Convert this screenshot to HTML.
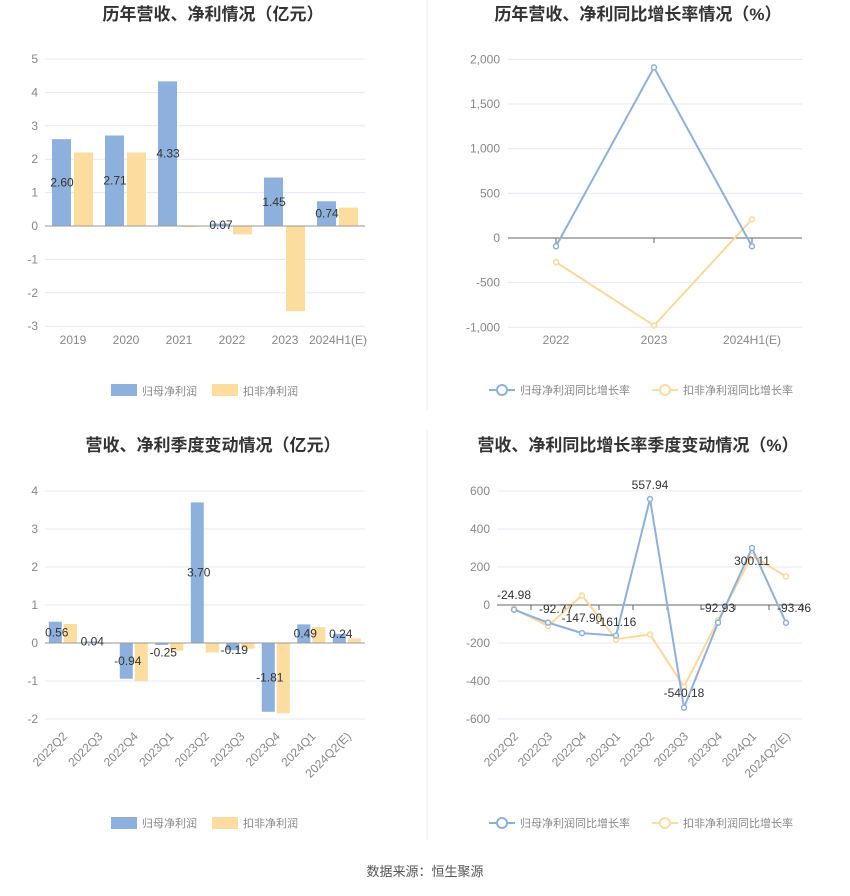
<!DOCTYPE html>
<html><head><meta charset="utf-8"><style>
body{margin:0;background:#fff;width:850px;height:891px;overflow:hidden;font-family:"Liberation Sans","Noto Sans CJK SC",sans-serif}
svg text{font-family:"Liberation Sans","Noto Sans CJK SC",sans-serif}
</style></head><body>
<svg id="s" width="850" height="891" xmlns="http://www.w3.org/2000/svg"></svg>
<script>
const s=document.getElementById('s');let h='';
const B='#8eb0dc',O='#fddca0',G='#e6e8f0',T='#888';
function t(x,y,str,o={}){h+=`<text x="${x}" y="${y}" font-size="${o.fs||12}" fill="${o.c||T}" text-anchor="${o.a||'middle'}" ${o.w?'font-weight="bold"':''} ${o.tr?`transform="${o.tr}"`:''}>${str}</text>`;}
function r(x,y,w,hh,c){if(hh<0){y+=hh;hh=-hh}h+=`<rect x="${x}" y="${y}" width="${w}" height="${Math.max(hh,0.5)}" fill="${c}"/>`;}
function l(x1,y1,x2,y2,c,w=1){h+=`<line x1="${x1}" y1="${y1}" x2="${x2}" y2="${y2}" stroke="${c}" stroke-width="${w}"/>`;}
l(427,0,427,410,'#eee');l(427,430,427,840,'#eee');
t(213,20,'历年营收、净利情况（亿元）',{fs:17,w:1,c:'#333'});
t(638,20,'历年营收、净利同比增长率情况（%）',{fs:17,w:1,c:'#333'});
t(213,451,'营收、净利季度变动情况（亿元）',{fs:17,w:1,c:'#333'});
t(638,451,'营收、净利同比增长率季度变动情况（%）',{fs:17,w:1,c:'#333'});
const LF={a:'start',fs:11};
{const y=v=>226-33.4*v;for(let v=-3;v<=5;v++){if(v)l(45,y(v),365,y(v),G);t(38,y(v)+4,v,{a:'end'});}
const cats=['2019','2020','2021','2022','2023','2024H1(E)'],bv=[2.60,2.71,4.33,0.07,1.45,0.74],ov=[2.2,2.2,-0.03,-0.25,-2.55,0.55];
cats.forEach((c,i)=>{const cx=73+53*i;r(cx-21,226,19,-33.4*bv[i],B);r(cx+1,226,19,-33.4*ov[i],O);t(cx,344,c);});
l(45,226,365,226,'#999');
cats.forEach((c,i)=>{const cx=73+53*i;t(cx-11,y(bv[i]/2)+4,bv[i].toFixed(2),{c:'#333'});});
r(111,384,26,12,B);t(142,395,'归母净利润',LF);r(212,384,26,12,O);t(243,395,'扣非净利润',LF);}
{const y=v=>238-v*0.0893;[2000,1500,1000,500,0,-500,-1000].forEach(v=>{if(v)l(508,y(v),802,y(v),G);t(500,y(v)+4,v.toLocaleString('en-US'),{a:'end'});});
l(508,238,802,238,'#666');[556,654,752].forEach((x,i)=>{l(x,238,x,243,'#666');t(x,344,['2022','2023','2024H1(E)'][i]);});
const bp=[[556,-92.77],[654,1910],[752,-93.46]],op=[[556,-270],[654,-980],[752,210]];
[[op,'#fdd89a'],[bp,B]].forEach(([p,c])=>{h+=`<polyline points="${p.map(q=>q[0]+','+y(q[1])).join(' ')}" fill="none" stroke="${c}" stroke-width="2"/>`;p.forEach(q=>h+=`<circle cx="${q[0]}" cy="${y(q[1])}" r="2.5" fill="#fff" stroke="${c}" stroke-width="1.5"/>`);});
l(489,390,515,390,B,2);h+=`<circle cx="502" cy="390" r="5" fill="#fff" stroke="${B}" stroke-width="2"/>`;t(520,394,'归母净利润同比增长率',LF);
l(652,390,678,390,O,2);h+=`<circle cx="665" cy="390" r="5" fill="#fff" stroke="${O}" stroke-width="2"/>`;t(683,394,'扣非净利润同比增长率',LF);}
const qc=['2022Q2','2022Q3','2022Q4','2023Q1','2023Q2','2023Q3','2023Q4','2024Q1','2024Q2(E)'];
{const y=v=>643-38*v;for(let v=-2;v<=4;v++){if(v)l(45,y(v),365,y(v),G);t(38,y(v)+4,v,{a:'end'});}
const bv=[0.56,0.04,-0.94,-0.05,3.70,-0.19,-1.81,0.49,0.24],ov=[0.5,-0.02,-1.0,-0.2,-0.25,-0.15,-1.85,0.42,0.12],lb=['0.56','0.04','-0.94','-0.25','3.70','-0.19','-1.81','0.49','0.24'];
qc.forEach((c,i)=>{const cx=62.8+35.5*i;r(cx-14,643,13,-38*bv[i],B);r(cx+1,643,13,-38*ov[i],O);t(cx+5,737,c,{a:'end',tr:`rotate(-45 ${cx+5} 737)`});});
l(45,643,365,643,'#999');
qc.forEach((c,i)=>{const cx=62.8+35.5*i;let v=i==3?-0.25:bv[i];t(cx-6,y(Math.abs(v)>0.3?v/2:v)+4,lb[i],{c:'#333'});});
r(111,817,26,12,B);t(142,827,'归母净利润',LF);r(212,817,26,12,O);t(243,827,'扣非净利润',LF);}
{const y=v=>605-v*0.19;[600,400,200,0,-200,-400,-600].forEach(v=>{if(v)l(497,y(v),802,y(v),G);t(490,y(v)+4,v,{a:'end'});});
l(497,605,802,605,'#666');
const xs=qc.map((c,i)=>514+34*i);qc.forEach((c,i)=>{l(xs[i]+17,605,xs[i]+17,610,'#666');t(xs[i]+5,737,c,{a:'end',tr:`rotate(-45 ${xs[i]+5} 737)`});});
const bv=[-24.98,-92.77,-147.9,-161.16,557.94,-540.18,-92.93,300.11,-93.46],ov=[-20,-110,50,-180,-155,-430,-80,260,150];
[[ov,'#fdd89a'],[bv,B]].forEach(([p,c])=>{h+=`<polyline points="${p.map((v,i)=>xs[i]+','+y(v)).join(' ')}" fill="none" stroke="${c}" stroke-width="2"/>`;p.forEach((v,i)=>h+=`<circle cx="${xs[i]}" cy="${y(v)}" r="2.5" fill="#fff" stroke="${c}" stroke-width="1.5"/>`);});
const lbl=['-24.98','-92.77','-147.90','-161.16','557.94','-540.18','-92.93','300.11','-93.46'],ly=[599,613,622,626,489,697,612,565,612],lx=[0,8,0,0,0,0,0,0,8];
lbl.forEach((s2,i)=>t(xs[i]+lx[i],ly[i],s2,{c:'#333'}));
l(489,823,515,823,B,2);h+=`<circle cx="502" cy="823" r="5" fill="#fff" stroke="${B}" stroke-width="2"/>`;t(520,827,'归母净利润同比增长率',LF);
l(652,823,678,823,O,2);h+=`<circle cx="665" cy="823" r="5" fill="#fff" stroke="${O}" stroke-width="2"/>`;t(683,827,'扣非净利润同比增长率',LF);}
t(425,876,'数据来源：恒生聚源',{fs:13,c:'#555'});
s.innerHTML=h;
</script>
</body></html>
